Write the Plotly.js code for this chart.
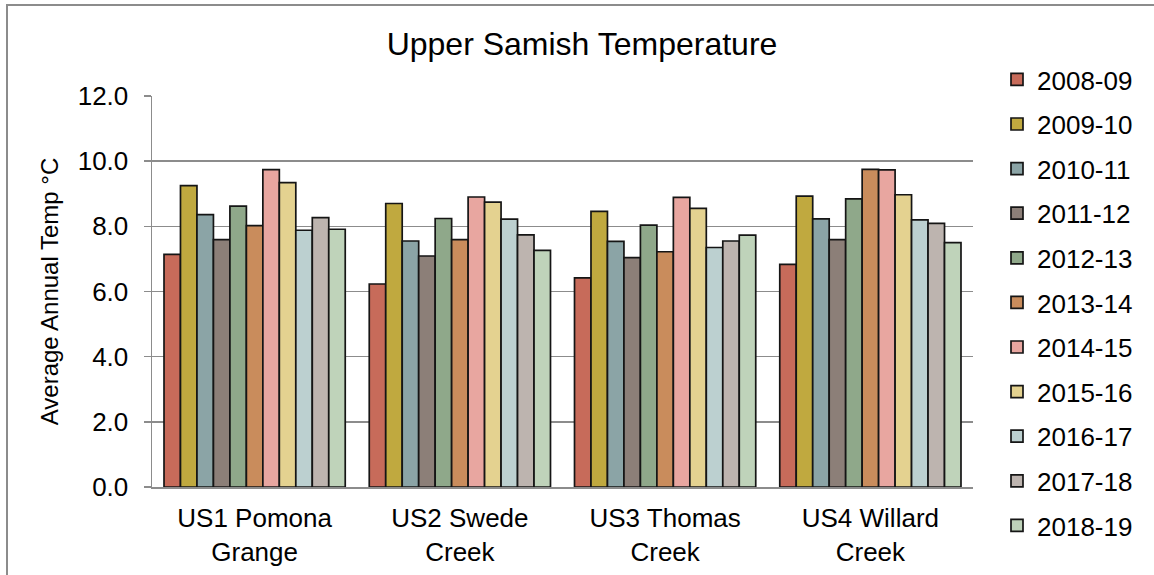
<!DOCTYPE html>
<html>
<head>
<meta charset="utf-8">
<script src="https://cdn.plot.ly/plotly-3.0.1.min.js"></script>
<style>html,body{margin:0;padding:0;background:#fff;}#chart{width:1154px;height:575px;}</style>
</head>
<body>
<div id="chart"></div>
<script>
const sites = ["US1 Pomona<br>Grange", "US2 Swede<br>Creek", "US3 Thomas<br>Creek", "US4 Willard<br>Creek"];
const seasons = ["2008-09","2009-10","2010-11","2011-12","2012-13","2013-14","2014-15","2015-16","2016-17","2017-18","2018-19"];
const v2008_09 = [7.14, 6.23, 6.42, 6.83];
const v2009_10 = [9.25, 8.70, 8.46, 8.93];
const v2010_11 = [8.36, 7.55, 7.54, 8.23];
const v2011_12 = [7.59, 7.09, 7.04, 7.59];
const v2012_13 = [8.62, 8.24, 8.04, 8.84];
const v2013_14 = [8.02, 7.59, 7.22, 9.75];
const v2014_15 = [9.74, 8.90, 8.89, 9.73];
const v2015_16 = [9.34, 8.74, 8.55, 8.97];
const v2016_17 = [7.88, 8.22, 7.35, 8.20];
const v2017_18 = [8.27, 7.74, 7.55, 8.09];
const v2018_19 = [7.91, 7.26, 7.73, 7.50];
const seriesValues = [v2008_09, v2009_10, v2010_11, v2011_12, v2012_13, v2013_14, v2014_15, v2015_16, v2016_17, v2017_18, v2018_19];
const colors = ["#C76B5A","#C0A93F","#8BA4A6","#8C7F78","#8FA88A","#C98C5C","#E8A6A0","#E4D290","#BCD0D0","#BDB4AF","#BFD3BA"];

const FONT = "Liberation Sans, Arial, sans-serif";
const L = 152, R = 973, T = 96, B = 487, W = 1154, H = 575;
const pw = R - L, ph = B - T;
const px = x => (x - L) / pw;
const py = y => (B - y) / ph;

const traces = seasons.map((s, i) => ({
  type: 'bar',
  name: s,
  x: sites,
  y: seriesValues[i],
  legendgroup: 'g' + i,
  marker: {color: colors[i], line: {color: '#151515', width: 1.7}},
  hoverinfo: 'x+y+name'
}));

const layout = {
  width: W, height: H,
  margin: {l: L, r: W - R, t: T, b: H - B, pad: 0},
  paper_bgcolor: '#fff', plot_bgcolor: '#fff',
  font: {family: FONT, color: '#000', size: 26},
  title: {text: 'Upper Samish Temperature', font: {family: FONT, size: 32, color: '#000'},
          x: 582 / W, xref: 'container', xanchor: 'center', y: 1 - 44 / H, yref: 'container', yanchor: 'middle'},
  barmode: 'group',
  bargap: 0.117,
  bargroupgap: 0,
  xaxis: {
    showline: true, linecolor: '#8c8c8c', linewidth: 1.5,
    showgrid: false, ticks: '', tickfont: {family: FONT, size: 26, color: '#000'},
    ticklabelstandoff: 7, fixedrange: true
  },
  yaxis: {
    range: [0, 12], dtick: 2, tick0: 0, tickformat: '.1f',
    showline: true, linecolor: '#8c8c8c', linewidth: 1.5,
    showgrid: true, gridcolor: '#8c8c8c', gridwidth: 1.5,
    ticks: 'outside', ticklen: 7, tickwidth: 1.5, tickcolor: '#8c8c8c',
    ticklabelstandoff: 10,
    tickfont: {family: FONT, size: 26, color: '#000'},
    zeroline: false,
    title: {text: 'Average Annual Temp °C', font: {family: FONT, size: 24, color: '#000'}, standoff: 12},
    fixedrange: true
  },
  legend: {
    x: px(997), xanchor: 'left', y: py(56), yanchor: 'top',
    traceorder: 'grouped', tracegroupgap: 7.8, maxheight: 570,
    font: {family: FONT, size: 26, color: '#000'},
    bgcolor: 'rgba(0,0,0,0)', borderwidth: 0, itemwidth: 30
  },
  shapes: [{
    type: 'rect', xref: 'paper', yref: 'paper',
    x0: px(7), x1: px(1170), y0: py(590), y1: py(5),
    line: {color: '#8c8c8c', width: 2}, fillcolor: 'rgba(0,0,0,0)', layer: 'below'
  }],
  showlegend: true
};

Plotly.newPlot('chart', traces, layout, {displayModeBar: false, staticPlot: true});
</script>
</body>
</html>
